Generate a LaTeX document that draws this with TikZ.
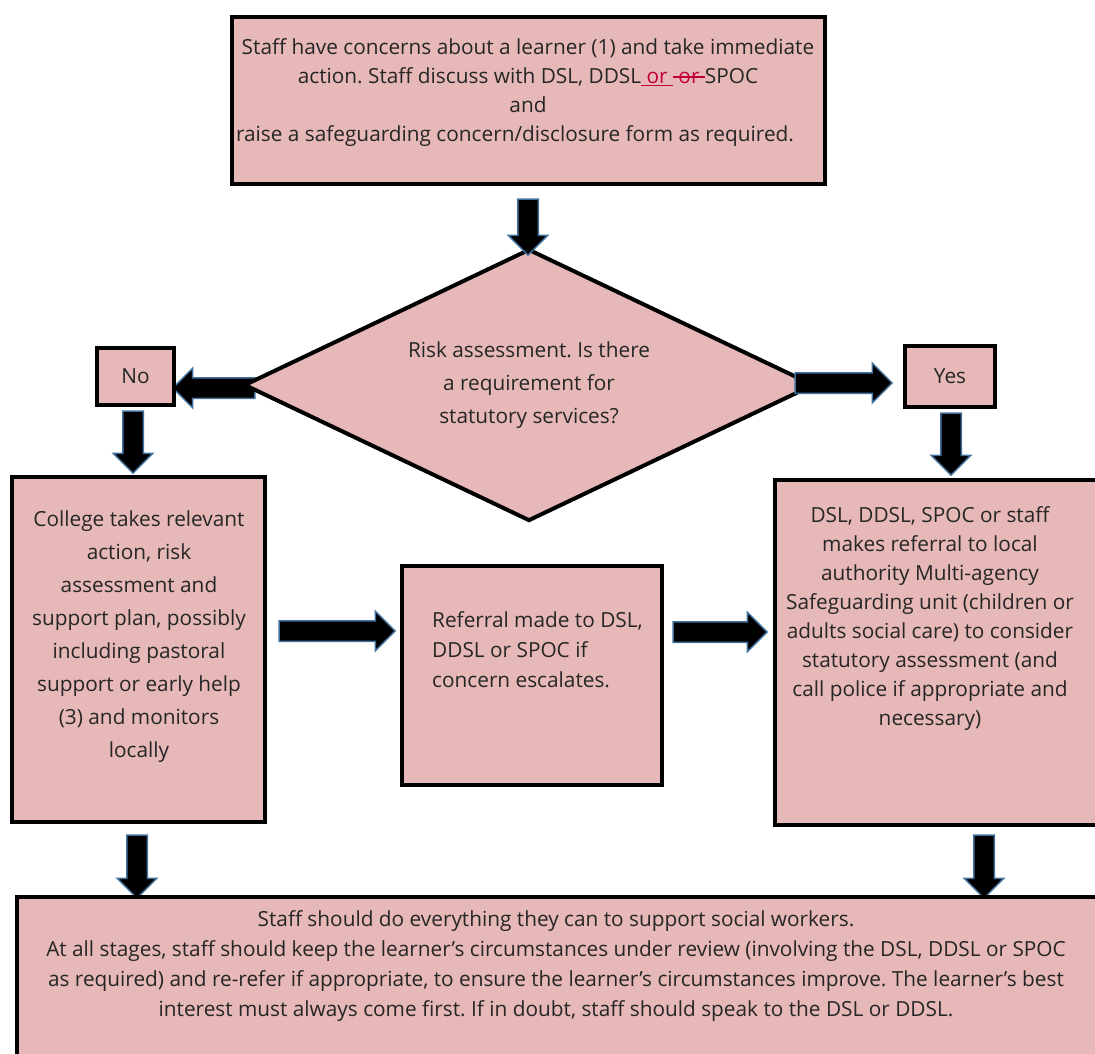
\documentclass[tikz,border=0pt]{standalone}
\usepackage{fontspec}
\setmainfont{Open Sans}
\usepackage{tikz}
\usetikzlibrary{shapes.geometric,shapes.arrows}
\definecolor{boxpink}{RGB}{230,184,183}
\definecolor{arrowblue}{RGB}{65,113,156}
\definecolor{editred}{RGB}{192,0,60}
\newsavebox{\editbox}
\newcommand{\redstrike}[1]{\sbox{\editbox}{#1}\rlap{\rule[0.3em]{\wd\editbox}{0.06em}}\usebox{\editbox}}
\frenchspacing

\begin{document}
\begin{tikzpicture}[
  x=1pt, y=-1pt,
  every node/.style={font=\fontsize{20.8}{29}\selectfont, align=center, text=black!85},
  box/.style={draw, line width=4pt, fill=boxpink, inner sep=0pt},
  txt/.style={inner sep=0pt},
  decide/.style={diamond, aspect=2.09, draw, line width=4pt, fill=boxpink, inner sep=0pt, minimum width=570pt, minimum height=272pt, font=\fontsize{20.8}{33}\selectfont},
  blk/.style={single arrow, draw=arrowblue, line width=1.5pt, fill=black, inner sep=9.5pt, single arrow head extend=9.5pt, single arrow head indent=0pt}
]

\useasboundingbox (0,0) rectangle (1095,1053);

\node[box, minimum width=593pt, minimum height=167pt] (concern) at (528.5,100.5) {};
\node[txt] (concerntxt) at (528,93) {Staff have concerns about a learner (1) and take immediate\\
  action. Staff discuss with DSL, DDSL\textcolor{editred}{\underline{~or~}\redstrike{~or~}}SPOC\\
  and\\
  raise a safeguarding concern/disclosure form as required.\hspace{26pt}\null};

\node[blk, rotate=180, minimum height=82pt] (a2) at (219,388) {};

\node[decide] (risk) at (529,385) {Risk assessment. Is there\\ a requirement for\\ statutory services?};

\node[blk, rotate=-90, minimum height=56pt] (a1) at (528,222) {};
\node[blk, minimum height=97pt] (a3) at (838.5,383) {};

\node[box, minimum width=77pt, minimum height=57pt] (no) at (135.5,376.5) {No};
\node[box, minimum width=90pt, minimum height=61pt] (yes) at (950,376) {Yes};

\node[blk, rotate=-90, minimum height=62pt] (a4) at (133,437) {};
\node[blk, rotate=-90, minimum height=62pt] (a5) at (951,439) {};

\node[box, minimum width=253pt, minimum height=345pt] (college) at (138.5,649.5) {};
\node[txt, font=\fontsize{20.8}{33}\selectfont] (collegetxt) at (139,636.5) {College takes relevant\\
  action, risk\\
  assessment and\\
  support plan, possibly\\
  including pastoral\\
  support or early help\\
  (3) and monitors\\
  locally};

\node[box, minimum width=260pt, minimum height=219pt] (referral) at (532,675.5) {};
\node[txt, align=left, anchor=west, font=\fontsize{20.8}{30}\selectfont] (referraltxt) at (432,649.5) {Referral made to DSL,\\
  DDSL or SPOC if\\
  concern escalates.};

\node[box, minimum width=325pt, minimum height=345pt] (mash) at (937.5,652.5) {};
\node[txt] (mashtxt) at (930,619) {DSL, DDSL, SPOC or staff\\
  makes referral to local\\
  authority Multi-agency\\
  Safeguarding unit (children or\\
  adults social care) to consider\\
  statutory assessment (and\\
  call police if appropriate and\\
  necessary)};

\node[blk, minimum height=116pt] (a6) at (332,631) {};
\node[blk, minimum height=94pt] (a7) at (715,632) {};

\node[blk, rotate=-90, minimum height=63pt] (a8) at (137,861.5) {};
\node[blk, rotate=-90, minimum height=63pt] (a9) at (984,861.5) {};

\node[box, minimum width=1083pt, minimum height=170pt] (support) at (558.5,982) {};
\node[txt, font=\fontsize{20.8}{30}\selectfont] (supporttxt) at (556,966) {Staff should do everything they can to support social workers.\\
  At all stages, staff should keep the learner’s circumstances under review (involving the DSL, DDSL or SPOC\\
  as required) and re-refer if appropriate, to ensure the learner’s circumstances improve. The learner’s best\\
  interest must always come first. If in doubt, staff should speak to the DSL or DDSL.};

\end{tikzpicture}
\end{document}
